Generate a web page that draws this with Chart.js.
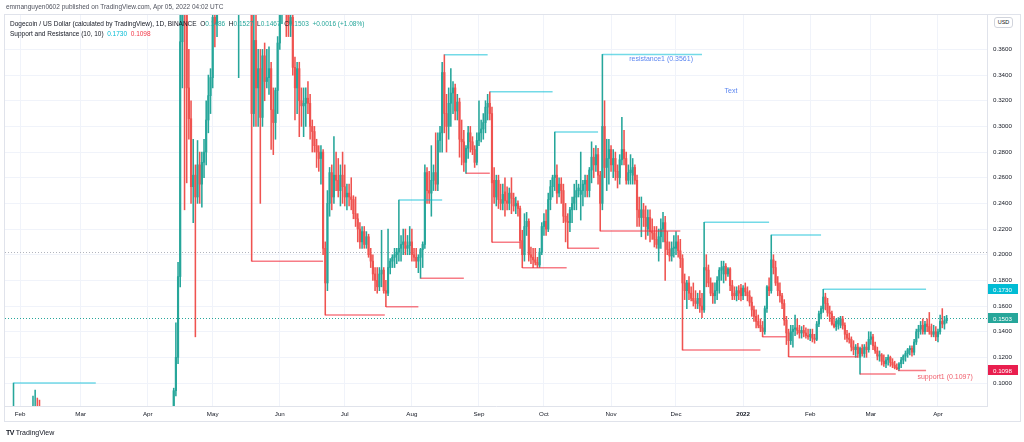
<!DOCTYPE html>
<html>
<head>
<meta charset="utf-8">
<script src="https://cdn.jsdelivr.net/npm/chart.js@4.4.0/dist/chart.umd.min.js"></script>
<style>
  html, body { margin: 0; padding: 0; background: #fff; }
  body { width: 1024px; height: 442px; position: relative; overflow: hidden; font-family: 'Liberation Sans', Arial, sans-serif; }
  canvas { position: absolute; left: 0; top: 0; }
  .txt { position: absolute; white-space: pre; color: #131722; line-height: 9px; z-index: 2; }
  .up { color: #26a69a; }
  .res { color: #00bcd4; }
  .sup { color: #f23645; }
  #usd { position: absolute; left: 994px; top: 17px; width: 17px; height: 9px; border: 1px solid #d1d4dc; border-radius: 3px;
         font-size: 5.5px; line-height: 9px; text-align: center; color: #131722; background: #fff; z-index: 2; }
</style>
</head>
<body>
<canvas id="chart" width="1024" height="442"></canvas>
<div class="txt" style="left:6px;top:2px;font-size:6.5px;color:#50535e">emmanguyen0602 published on TradingView.com, Apr 05, 2022 04:02 UTC</div>
<div class="txt" style="left:10px;top:19px;font-size:6.5px">Dogecoin / US Dollar (calculated by TradingView), 1D, BINANCE  O<span class="up">0.1486</span>  H<span class="up">0.1527</span>  L<span class="up">0.1467</span>  C<span class="up">0.1503</span>  <span class="up">+0.0016 (+1.08%)</span></div>
<div class="txt" style="left:10px;top:29px;font-size:6.5px">Support and Resistance (10, 10)  <span class="res">0.1730</span>  <span class="sup">0.1098</span></div>
<div id="usd">USD</div>
<div class="txt" style="left:6px;top:428px;font-size:7px;color:#131722"><b style="letter-spacing:-0.5px">TV</b> TradingView</div>
<script>
// daily candles [open, high, low, close], first one is 25 Jan 2021
// day index 0 = 1 Feb 2021
const firstDay = -7

const jan21 = [[0.0087,0.0092,0.0083,0.0085],[0.0085,0.0089,0.0082,0.0087],[0.0087,0.0088,0.0073,0.0075],[0.0075,0.049,0.0073,0.036],[0.036,0.100,0.028,0.040],[0.040,0.055,0.035,0.037],[0.037,0.040,0.032,0.034]]

const feb21 = [[0.034,0.038,0.032,0.036],[0.036,0.037,0.033,0.035],[0.035,0.038,0.034,0.037],[0.037,0.055,0.036,0.054],[0.054,0.058,0.047,0.052],[0.052,0.063,0.050,0.058],[0.058,0.0899,0.055,0.078],[0.078,0.0945,0.070,0.080],[0.080,0.0883,0.068,0.073],[0.073,0.0867,0.066,0.070],[0.070,0.075,0.066,0.071],[0.071,0.073,0.065,0.067],[0.067,0.072,0.064,0.068],[0.068,0.070,0.061,0.063],[0.063,0.065,0.055,0.058],[0.058,0.062,0.055,0.057],[0.057,0.060,0.054,0.058],[0.058,0.060,0.054,0.056],[0.056,0.059,0.054,0.057],[0.057,0.066,0.055,0.061],[0.061,0.064,0.056,0.058],[0.058,0.059,0.047,0.053],[0.053,0.055,0.043,0.051],[0.051,0.060,0.049,0.057],[0.057,0.058,0.051,0.052],[0.052,0.054,0.047,0.050],[0.050,0.053,0.049,0.050],[0.050,0.051,0.047,0.050]]

const mar21 = [[0.050,0.054,0.049,0.053],[0.053,0.054,0.050,0.051],[0.051,0.052,0.049,0.050],[0.050,0.051,0.047,0.048],[0.048,0.050,0.046,0.049],[0.049,0.051,0.048,0.050],[0.050,0.053,0.049,0.052],[0.052,0.053,0.049,0.051],[0.051,0.058,0.050,0.056],[0.056,0.062,0.054,0.058],[0.058,0.060,0.054,0.056],[0.056,0.058,0.052,0.055],[0.055,0.064,0.054,0.062],[0.062,0.063,0.057,0.059],[0.059,0.060,0.055,0.057],[0.057,0.060,0.055,0.058],[0.058,0.061,0.056,0.060],[0.060,0.061,0.056,0.058],[0.058,0.060,0.056,0.059],[0.059,0.061,0.057,0.060],[0.060,0.062,0.057,0.058],[0.058,0.059,0.053,0.055],[0.055,0.057,0.052,0.055],[0.055,0.057,0.051,0.053],[0.053,0.054,0.050,0.052],[0.052,0.055,0.051,0.054],[0.054,0.055,0.052,0.053],[0.053,0.054,0.051,0.052],[0.052,0.055,0.051,0.054],[0.054,0.056,0.053,0.055],[0.055,0.057,0.053,0.054]]

const apr21 = [[0.054,0.060,0.053,0.057],[0.057,0.062,0.056,0.060],[0.060,0.061,0.056,0.057],[0.057,0.060,0.056,0.059],[0.059,0.063,0.058,0.061],[0.061,0.063,0.059,0.062],[0.062,0.063,0.056,0.058],[0.058,0.063,0.057,0.062],[0.062,0.063,0.059,0.060],[0.060,0.062,0.059,0.061],[0.061,0.063,0.060,0.062],[0.062,0.075,0.061,0.068],[0.068,0.096,0.067,0.094],[0.094,0.147,0.090,0.120],[0.120,0.194,0.115,0.183],[0.183,0.450,0.175,0.366],[0.366,0.440,0.330,0.410],[0.410,0.430,0.235,0.400],[0.400,0.420,0.256,0.330],[0.330,0.360,0.290,0.306],[0.306,0.320,0.240,0.253],[0.253,0.290,0.225,0.262],[0.262,0.270,0.136,0.245],[0.245,0.289,0.240,0.270],[0.270,0.280,0.240,0.255],[0.255,0.280,0.237,0.272],[0.272,0.290,0.260,0.280],[0.280,0.320,0.270,0.305],[0.305,0.340,0.295,0.324],[0.324,0.345,0.310,0.338]]

const may21 = [[0.338,0.400,0.330,0.385],[0.385,0.400,0.362,0.380],[0.380,0.450,0.370,0.430],[0.430,0.600,0.410,0.550],[0.550,0.690,0.500,0.660],[0.660,0.670,0.580,0.640],[0.640,0.700,0.600,0.670],[0.670,0.740,0.630,0.680],[0.680,0.700,0.420,0.520],[0.520,0.560,0.420,0.450],[0.450,0.520,0.410,0.500],[0.500,0.520,0.400,0.420],[0.420,0.520,0.338,0.480],[0.480,0.580,0.470,0.550],[0.550,0.560,0.450,0.480],[0.480,0.570,0.440,0.500],[0.500,0.520,0.440,0.470],[0.470,0.510,0.460,0.470],[0.470,0.490,0.195,0.310],[0.310,0.400,0.300,0.367],[0.367,0.410,0.300,0.330],[0.330,0.360,0.300,0.345],[0.345,0.360,0.240,0.307],[0.307,0.360,0.300,0.355],[0.355,0.365,0.320,0.335],[0.335,0.360,0.330,0.338],[0.338,0.362,0.325,0.345],[0.345,0.350,0.282,0.313],[0.313,0.330,0.278,0.303],[0.303,0.330,0.290,0.328],[0.328,0.370,0.310,0.365]]

const jun21 = [[0.365,0.400,0.360,0.390],[0.390,0.440,0.380,0.420],[0.420,0.440,0.400,0.410],[0.410,0.420,0.370,0.390],[0.390,0.410,0.370,0.380],[0.380,0.400,0.370,0.385],[0.385,0.390,0.340,0.346],[0.346,0.354,0.305,0.330],[0.330,0.350,0.310,0.345],[0.345,0.350,0.292,0.320],[0.320,0.330,0.300,0.316],[0.316,0.330,0.292,0.318],[0.318,0.330,0.300,0.322],[0.322,0.335,0.310,0.318],[0.318,0.325,0.290,0.300],[0.300,0.305,0.280,0.296],[0.296,0.300,0.280,0.285],[0.285,0.290,0.268,0.280],[0.280,0.285,0.265,0.275],[0.275,0.285,0.255,0.280],[0.280,0.282,0.200,0.205],[0.205,0.210,0.153,0.178],[0.178,0.250,0.172,0.240],[0.240,0.268,0.230,0.264],[0.264,0.270,0.235,0.245],[0.245,0.292,0.240,0.262],[0.262,0.280,0.250,0.258],[0.258,0.275,0.245,0.250],[0.250,0.270,0.238,0.262],[0.262,0.280,0.240,0.253]]

const jul21 = [[0.253,0.270,0.238,0.245],[0.245,0.255,0.235,0.248],[0.248,0.255,0.238,0.245],[0.245,0.260,0.235,0.243],[0.243,0.246,0.228,0.232],[0.232,0.245,0.222,0.228],[0.228,0.232,0.210,0.220],[0.220,0.225,0.205,0.210],[0.210,0.222,0.205,0.218],[0.218,0.222,0.205,0.208],[0.208,0.218,0.205,0.214],[0.214,0.216,0.198,0.200],[0.200,0.205,0.190,0.195],[0.195,0.200,0.180,0.185],[0.185,0.190,0.172,0.180],[0.180,0.190,0.170,0.175],[0.175,0.190,0.172,0.185],[0.185,0.219,0.175,0.188],[0.188,0.190,0.170,0.172],[0.172,0.180,0.1595,0.170],[0.170,0.220,0.168,0.190],[0.190,0.197,0.185,0.195],[0.195,0.200,0.190,0.198],[0.198,0.205,0.190,0.200],[0.200,0.205,0.193,0.202],[0.202,0.2426,0.195,0.205],[0.205,0.215,0.195,0.208],[0.208,0.220,0.200,0.210],[0.210,0.220,0.200,0.205],[0.205,0.215,0.200,0.207],[0.207,0.222,0.200,0.210]]

const aug21 = [[0.210,0.220,0.195,0.200],[0.200,0.205,0.195,0.198],[0.198,0.205,0.190,0.195],[0.195,0.200,0.186,0.198],[0.198,0.205,0.1816,0.204],[0.204,0.210,0.190,0.208],[0.208,0.270,0.205,0.264],[0.264,0.268,0.240,0.250],[0.250,0.265,0.240,0.248],[0.248,0.285,0.230,0.258],[0.258,0.270,0.250,0.264],[0.264,0.295,0.250,0.255],[0.255,0.295,0.250,0.289],[0.289,0.300,0.280,0.295],[0.295,0.350,0.280,0.342],[0.342,0.3559,0.295,0.310],[0.310,0.325,0.280,0.300],[0.300,0.330,0.290,0.318],[0.318,0.345,0.300,0.326],[0.326,0.335,0.310,0.330],[0.330,0.333,0.305,0.312],[0.312,0.325,0.305,0.319],[0.319,0.322,0.276,0.290],[0.290,0.305,0.270,0.288],[0.288,0.297,0.265,0.272],[0.272,0.285,0.2634,0.283],[0.283,0.300,0.275,0.295],[0.295,0.300,0.280,0.288],[0.288,0.292,0.278,0.282],[0.282,0.285,0.268,0.272],[0.272,0.295,0.270,0.289]]

const sep21 = [[0.289,0.320,0.285,0.295],[0.295,0.305,0.288,0.298],[0.298,0.310,0.290,0.303],[0.303,0.320,0.295,0.315],[0.315,0.325,0.305,0.318],[0.318,0.327,0.305,0.310],[0.310,0.315,0.2097,0.256],[0.258,0.268,0.240,0.245],[0.245,0.262,0.238,0.258],[0.258,0.262,0.236,0.243],[0.243,0.255,0.235,0.240],[0.240,0.255,0.235,0.247],[0.249,0.260,0.230,0.242],[0.242,0.253,0.235,0.240],[0.240,0.252,0.235,0.248],[0.248,0.260,0.232,0.244],[0.244,0.248,0.234,0.238],[0.238,0.245,0.232,0.240],[0.240,0.242,0.230,0.236],[0.236,0.238,0.205,0.211],[0.211,0.219,0.1899,0.200],[0.200,0.232,0.195,0.222],[0.222,0.233,0.215,0.226],[0.226,0.228,0.195,0.200],[0.200,0.206,0.193,0.198],[0.198,0.205,0.190,0.196],[0.196,0.205,0.192,0.194],[0.194,0.198,0.190,0.192],[0.192,0.205,0.190,0.202],[0.202,0.225,0.200,0.222]]

const oct21 = [[0.222,0.232,0.215,0.226],[0.226,0.235,0.215,0.220],[0.220,0.248,0.218,0.243],[0.243,0.258,0.235,0.253],[0.253,0.262,0.245,0.260],[0.260,0.2956,0.250,0.262],[0.262,0.270,0.240,0.248],[0.248,0.260,0.245,0.255],[0.255,0.260,0.240,0.250],[0.250,0.255,0.225,0.230],[0.230,0.240,0.210,0.226],[0.226,0.232,0.205,0.225],[0.225,0.237,0.218,0.235],[0.235,0.245,0.225,0.240],[0.240,0.255,0.235,0.245],[0.245,0.258,0.235,0.250],[0.250,0.255,0.245,0.252],[0.247,0.280,0.227,0.250],[0.250,0.258,0.238,0.255],[0.255,0.262,0.245,0.258],[0.258,0.262,0.245,0.250],[0.250,0.268,0.245,0.266],[0.266,0.288,0.256,0.276],[0.276,0.283,0.260,0.270],[0.270,0.285,0.265,0.278],[0.278,0.283,0.255,0.262],[0.262,0.265,0.2185,0.240],[0.240,0.3561,0.235,0.300],[0.300,0.320,0.260,0.268],[0.268,0.290,0.250,0.275],[0.275,0.290,0.255,0.282]]

const nov21 = [[0.282,0.285,0.265,0.270],[0.270,0.282,0.260,0.275],[0.275,0.280,0.258,0.265],[0.265,0.270,0.252,0.260],[0.260,0.278,0.255,0.274],[0.274,0.307,0.270,0.282],[0.282,0.297,0.270,0.275],[0.275,0.280,0.255,0.258],[0.258,0.270,0.255,0.264],[0.264,0.278,0.255,0.266],[0.262,0.275,0.255,0.268],[0.268,0.270,0.255,0.258],[0.258,0.262,0.222,0.235],[0.235,0.245,0.222,0.229],[0.229,0.245,0.214,0.235],[0.235,0.240,0.222,0.229],[0.229,0.238,0.212,0.222],[0.220,0.235,0.215,0.229],[0.229,0.235,0.210,0.218],[0.218,0.228,0.212,0.217],[0.217,0.222,0.206,0.212],[0.212,0.222,0.205,0.208],[0.205,0.220,0.195,0.214],[0.214,0.228,0.205,0.220],[0.220,0.233,0.210,0.225],[0.225,0.230,0.180,0.210],[0.210,0.218,0.200,0.204],[0.204,0.210,0.195,0.199],[0.199,0.210,0.195,0.205],[0.205,0.215,0.198,0.206]]

const dec21 = [[0.205,0.218,0.200,0.210],[0.210,0.215,0.198,0.203],[0.203,0.212,0.190,0.197],[0.197,0.200,0.1257,0.178],[0.178,0.185,0.165,0.172],[0.172,0.180,0.158,0.178],[0.178,0.183,0.165,0.170],[0.170,0.175,0.164,0.166],[0.166,0.178,0.160,0.164],[0.164,0.172,0.158,0.162],[0.162,0.170,0.158,0.166],[0.166,0.172,0.155,0.160],[0.160,0.170,0.151,0.157],[0.157,0.2253,0.155,0.190],[0.190,0.200,0.175,0.188],[0.188,0.192,0.175,0.178],[0.178,0.182,0.168,0.170],[0.170,0.178,0.162,0.168],[0.168,0.178,0.162,0.172],[0.172,0.183,0.165,0.180],[0.180,0.190,0.170,0.188],[0.188,0.195,0.180,0.190],[0.185,0.195,0.178,0.191],[0.191,0.193,0.180,0.185],[0.185,0.190,0.183,0.189],[0.189,0.190,0.172,0.176],[0.176,0.180,0.165,0.168],[0.170,0.175,0.165,0.168],[0.168,0.175,0.164,0.172],[0.172,0.176,0.165,0.170],[0.174,0.177,0.164,0.168]]

const jan22 = [[0.168,0.176,0.165,0.174],[0.174,0.178,0.168,0.171],[0.171,0.175,0.164,0.168],[0.168,0.172,0.160,0.163],[0.163,0.167,0.152,0.157],[0.157,0.160,0.148,0.152],[0.152,0.157,0.143,0.148],[0.148,0.153,0.143,0.145],[0.145,0.150,0.140,0.143],[0.143,0.148,0.136,0.140],[0.140,0.160,0.138,0.158],[0.158,0.176,0.155,0.175],[0.175,0.182,0.168,0.172],[0.172,0.2153,0.170,0.196],[0.196,0.200,0.185,0.190],[0.190,0.195,0.176,0.178],[0.178,0.183,0.168,0.172],[0.172,0.178,0.163,0.168],[0.168,0.170,0.158,0.162],[0.162,0.165,0.145,0.149],[0.149,0.152,0.130,0.139],[0.139,0.142,0.1205,0.133],[0.133,0.145,0.130,0.140],[0.140,0.145,0.128,0.142],[0.142,0.153,0.137,0.143],[0.143,0.150,0.138,0.141],[0.141,0.145,0.135,0.139],[0.139,0.144,0.135,0.141],[0.141,0.145,0.136,0.139],[0.139,0.143,0.135,0.137],[0.137,0.142,0.134,0.136]]

const feb22 = [[0.136,0.142,0.133,0.138],[0.138,0.142,0.132,0.135],[0.135,0.138,0.131,0.134],[0.134,0.148,0.133,0.146],[0.146,0.156,0.144,0.154],[0.154,0.160,0.150,0.158],[0.158,0.173,0.155,0.167],[0.167,0.170,0.157,0.162],[0.162,0.166,0.152,0.155],[0.155,0.160,0.148,0.154],[0.154,0.156,0.145,0.146],[0.146,0.152,0.143,0.144],[0.144,0.150,0.141,0.148],[0.146,0.151,0.142,0.149],[0.145,0.152,0.143,0.150],[0.150,0.152,0.142,0.145],[0.145,0.147,0.134,0.138],[0.138,0.141,0.132,0.135],[0.135,0.139,0.131,0.134],[0.134,0.136,0.125,0.128],[0.128,0.133,0.122,0.126],[0.126,0.130,0.120,0.128],[0.128,0.131,0.120,0.123],[0.120,0.128,0.107,0.127],[0.127,0.130,0.121,0.123],[0.123,0.130,0.120,0.128],[0.128,0.132,0.120,0.126],[0.126,0.140,0.124,0.134]]

const mar22 = [[0.134,0.140,0.130,0.136],[0.136,0.138,0.126,0.129],[0.129,0.132,0.123,0.125],[0.125,0.128,0.118,0.121],[0.121,0.125,0.117,0.122],[0.122,0.123,0.114,0.117],[0.117,0.122,0.113,0.115],[0.115,0.120,0.112,0.118],[0.118,0.122,0.114,0.120],[0.120,0.121,0.113,0.116],[0.116,0.119,0.112,0.114],[0.114,0.117,0.111,0.112],[0.112,0.115,0.1105,0.111],[0.111,0.116,0.1097,0.115],[0.115,0.120,0.112,0.118],[0.118,0.122,0.115,0.121],[0.121,0.125,0.117,0.123],[0.123,0.127,0.120,0.126],[0.126,0.129,0.122,0.127],[0.127,0.129,0.121,0.124],[0.124,0.134,0.122,0.132],[0.132,0.142,0.130,0.140],[0.140,0.145,0.135,0.142],[0.142,0.148,0.138,0.145],[0.145,0.150,0.138,0.140],[0.140,0.148,0.138,0.146],[0.146,0.150,0.140,0.144],[0.144,0.155,0.138,0.140],[0.140,0.146,0.136,0.138],[0.138,0.145,0.136,0.140],[0.140,0.144,0.133,0.136]]

const apr22 = [[0.136,0.142,0.132,0.140],[0.140,0.153,0.138,0.148],[0.148,0.158,0.143,0.146],[0.146,0.152,0.142,0.1486],[0.1486,0.1527,0.1467,0.1503]]

// support / resistance steps: [fromDay, toDay, level]
const resistance = [[-3,35,0.100],[175,195,0.2426],[196,216,0.3559],[217,246,0.327],[247,267,0.2956],[269,315,0.3561],[316,346,0.2253],[347,370,0.2153],[371,418.5,0.173]]
const support = [[107,140,0.195],[141,168.5,0.153],[169,184,0.1595],[185,205,0.1816],[206,217,0.2634],[218,231,0.2097],[232,252.5,0.1899],[253,267.5,0.205],[268,305,0.2185],[306,342,0.1257],[343,354,0.136],[355,387,0.1205],[388,404.5,0.107],[405.5,418.5,0.1097]]

const monthDays = [0,28,59,89,120,150,181,212,242,273,303,334,365,393,424]
const monthLabels = ['Feb','Mar','Apr','May','Jun','Jul','Aug','Sep','Oct','Nov','Dec','2022','Feb','Mar','Apr']
const priceTicks = [0.10,0.12,0.14,0.16,0.18,0.20,0.22,0.24,0.26,0.28,0.30,0.32,0.34,0.36]

// price tags on the right axis and dotted price lines
const tags = [[0.1730,'#00bcd4'],[0.1503,'#26a69a'],[0.1098,'#e91e4e']]
const dottedLines = [[0.2019,'#b2b5be'],[0.1503,'#26a69a']]
// drawing labels [day, price, text, colour]
const notes = [[296.1,0.3521,'resistance1 (0.3561)','#5b86f0'],[328.4,0.3276,'Text','#5b86f0'],[427.3,0.1047,'support1 (0.1097)','#f0606e']]

const UP = '#26a69a'
const DOWN = '#ef5350'
const FONT = "'Liberation Sans', Arial, sans-serif"

const candles = [].concat(jan21, feb21, mar21, apr21, may21, jun21, jul21, aug21, sep21, oct21, nov21, dec21, jan22, feb22, mar22, apr22)
const colors = candles.map((c) => (c[3] >= c[0] ? UP : DOWN))
const wicks = candles.map((c, i) => ({ x: firstDay + i, y: [c[2], c[1]] }))
const bodies = candles.map((c, i) => ({ x: firstDay + i, y: [c[0], c[3]] }))

function stepLine(segs) {
  const pts = []
  segs.forEach((s) => {
    pts.push({ x: s[0], y: s[2] }, { x: s[1], y: s[2] }, { x: s[1] + 0.01, y: null })
  })
  return pts
}

const overlay = {
  id: 'overlay',
  beforeDatasetsDraw(chart) {
    const { ctx, chartArea, scales } = chart
    ctx.save()
    ctx.lineWidth = 1
    ctx.setLineDash([1, 2])
    dottedLines.forEach(([v, col]) => {
      const y = Math.round(scales.y.getPixelForValue(v)) + 0.5
      ctx.strokeStyle = col
      ctx.beginPath()
      ctx.moveTo(chartArea.left, y)
      ctx.lineTo(chartArea.right, y)
      ctx.stroke()
    })
    ctx.restore()
  },
  afterDraw(chart) {
    const { ctx, chartArea, scales } = chart
    ctx.save()
    // labels of the drawings
    notes.forEach(([d, p, text, col]) => {
      ctx.font = '7px ' + FONT
      ctx.fillStyle = col
      ctx.textAlign = 'center'
      ctx.textBaseline = 'middle'
      ctx.fillText(text, scales.x.getPixelForValue(d), scales.y.getPixelForValue(p))
    })
    // price tags
    tags.forEach(([v, col]) => {
      const y = scales.y.getPixelForValue(v)
      ctx.fillStyle = col
      ctx.fillRect(chartArea.right + 1, Math.round(y - 5), 30, 10)
      ctx.fillStyle = '#fff'
      ctx.font = '6.2px ' + FONT
      ctx.textAlign = 'left'
      ctx.textBaseline = 'middle'
      ctx.fillText(v.toFixed(4), chartArea.right + 6, y + 0.5)
    })
    // outer frame
    ctx.strokeStyle = '#e0e3eb'
    ctx.lineWidth = 1
    ctx.strokeRect(4.5, 14.5, 1016, 407)
    ctx.restore()
  },
}

new Chart(document.getElementById('chart'), {
  type: 'bar',
  data: {
    datasets: [
      {
        type: 'line',
        data: stepLine(resistance),
        borderColor: 'rgba(0,188,212,0.55)',
        borderWidth: 1.5,
        pointRadius: 0,
        spanGaps: false,
        order: 0,
      },
      {
        type: 'line',
        data: stepLine(support),
        borderColor: 'rgba(242,54,69,0.65)',
        borderWidth: 1.5,
        pointRadius: 0,
        spanGaps: false,
        order: 0,
      },
      {
        data: bodies,
        backgroundColor: colors,
        barThickness: 1.5,
        grouped: false,
        order: 1,
      },
      {
        data: wicks,
        backgroundColor: colors,
        barThickness: 0.9,
        grouped: false,
        order: 2,
      },
    ],
  },
  options: {
    responsive: false,
    animation: false,
    events: [],
    layout: { padding: { left: 5, top: 14, right: 4, bottom: 21 } },
    plugins: { legend: { display: false }, tooltip: { enabled: false } },
    scales: {
      x: {
        type: 'linear',
        min: -6.93,
        max: 446.65,
        offset: false,
        afterBuildTicks: (s) => {
          s.ticks = monthDays.map((v) => ({ value: v }))
        },
        afterFit: (s) => {
          s.height = 15
        },
        grid: { color: '#f0f3fa', drawTicks: false, offset: false },
        border: { color: '#e0e3eb' },
        ticks: {
          autoSkip: false,
          maxRotation: 0,
          padding: 5,
          color: '#131722',
          font: (c) => ({ family: FONT, size: 6.2, weight: c.tick && c.tick.label === '2022' ? 'bold' : 'normal' }),
          callback: (v) => monthLabels[monthDays.indexOf(v)],
        },
      },
      y: {
        position: 'right',
        min: 0.0821,
        max: 0.3876,
        beginAtZero: false,
        afterBuildTicks: (s) => {
          s.ticks = priceTicks.map((v) => ({ value: v }))
        },
        afterFit: (s) => {
          s.width = 33
        },
        grid: { color: '#f0f3fa', drawTicks: false },
        border: { color: '#e0e3eb' },
        ticks: {
          padding: 6,
          color: '#131722',
          font: { family: FONT, size: 6.2 },
          callback: (v) => v.toFixed(4),
        },
      },
    },
  },
  plugins: [overlay],
})
</script>
</body>
</html>
